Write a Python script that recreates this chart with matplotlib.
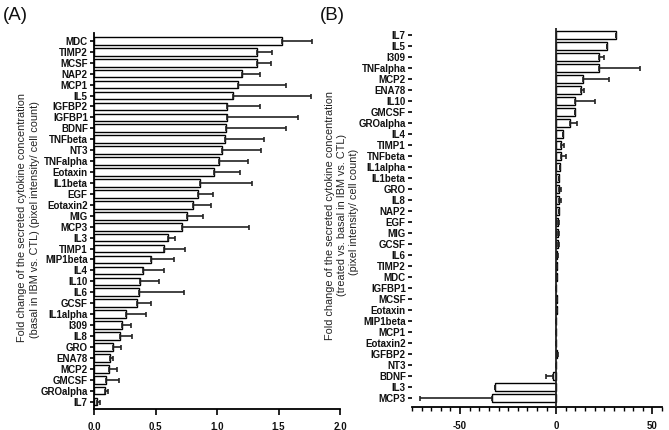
import matplotlib
matplotlib.use("Agg")
import matplotlib.pyplot as plt
import numpy as np
from matplotlib.ticker import MultipleLocator

# ---------------- data ----------------
cats_a = ["MDC", "TIMP2", "MCSF", "NAP2", "MCP1", "IL5", "IGFBP2", "IGFBP1", "BDNF",
          "TNFbeta", "NT3", "TNFalpha", "Eotaxin", "IL1beta", "EGF", "Eotaxin2", "MIG",
          "MCP3", "IL3", "TIMP1", "MIP1beta", "IL4", "IL10", "IL6", "GCSF", "IL1alpha",
          "I309", "IL8", "GRO", "ENA78", "MCP2", "GMCSF", "GROalpha", "IL7"]
vals_a = [1.53, 1.324, 1.324, 1.205, 1.173, 1.132, 1.081, 1.083, 1.076,
          1.068, 1.042, 1.019, 0.977, 0.863, 0.849, 0.807, 0.757,
          0.718, 0.605, 0.573, 0.46, 0.395, 0.371, 0.363, 0.347, 0.258,
          0.228, 0.212, 0.156, 0.129, 0.124, 0.097, 0.091, 0.027]
errs_a = [0.243, 0.121, 0.111, 0.142, 0.384, 0.634, 0.265, 0.574, 0.481,
          0.318, 0.315, 0.231, 0.213, 0.422, 0.119, 0.143, 0.129,
          0.542, 0.056, 0.166, 0.193, 0.178, 0.161, 0.371, 0.113, 0.161,
          0.073, 0.094, 0.062, 0.024, 0.059, 0.103, 0.019, 0.023]

cats_b = ["IL7", "IL5", "I309", "TNFalpha", "MCP2", "ENA78", "IL10", "GMCSF", "GROalpha",
          "IL4", "TIMP1", "TNFbeta", "IL1alpha", "IL1beta", "GRO", "IL8", "NAP2", "EGF",
          "MIG", "GCSF", "IL6", "TIMP2", "MDC", "IGFBP1", "MCSF", "Eotaxin", "MIP1beta",
          "MCP1", "Eotaxin2", "IGFBP2", "NT3", "BDNF", "IL3", "MCP3"]
vals_b = [30.9, 26.3, 22.0, 22.0, 13.9, 13.0, 10.0, 10.0, 7.2,
          3.3, 2.5, 2.3, 2.2, 1.7, 1.5, 1.4, 1.2, 0.9,
          0.9, 0.8, 0.5, 0.4, 0.4, 0.1, 0.3, 0.3, 0.1,
          0.1, 0.1, 0.4, 0.0, -1.9, -31.7, -33.6]
errs_b = [0.0, 0.0, 2.6, 21.5, 13.3, 1.7, 10.0, 0.0, 3.4,
          0.0, 1.8, 2.7, 0.0, 0.0, 0.9, 1.0, 0.4, 0.5,
          0.5, 0.5, 0.3, 0.2, 0.2, 0.0, 0.2, 0.2, 0.0,
          0.0, 0.0, 0.3, 0.0, 3.3, 0.0, 37.4]

xticks_a = [0.0, 0.5, 1.0, 1.5, 2.0]
xticks_b = [-50, 0, 50]

# ---------------- style ----------------
tick_font = ["Liberation Sans Narrow", "Liberation Sans", "DejaVu Sans"]
label_font = ["Liberation Sans", "DejaVu Sans"]
plt.rcParams["font.family"] = label_font

W, H = 669, 430
fig = plt.figure(figsize=(W / 100, H / 100), dpi=100)

def frac(x0, y0, x1, y1):
    return [x0 / W, 1 - y1 / H, (x1 - x0) / W, (y1 - y0) / H]

ax_a = fig.add_axes(frac(94, 33, 340, 409))
ax_b = fig.add_axes(frac(412, 28, 662, 406.7))

bar_kw = dict(height=0.7, color="white", edgecolor="black", linewidth=1.0, zorder=2)
err_kw = dict(fmt="none", ecolor="#222222", elinewidth=1.2, capsize=1.8, capthick=1.2, zorder=3)

# ---- panel A ----
ya = np.arange(len(cats_a))
ax_a.barh(ya, vals_a, **bar_kw)
ax_a.errorbar(vals_a, ya, xerr=[np.zeros(len(errs_a)), errs_a], **err_kw)
ax_a.set_ylim(len(cats_a) - 1 + 0.68, -0.72)
ax_a.set_xlim(0, 2.0)
ax_a.set_yticks(ya)
ax_a.set_yticklabels(cats_a)
ax_a.set_xticks(xticks_a)
ax_a.set_xticklabels([f"{t:.1f}" for t in xticks_a])
for s in ["top", "right"]:
    ax_a.spines[s].set_visible(False)
for s in ["left", "bottom"]:
    ax_a.spines[s].set_linewidth(1.3)
ax_a.tick_params(axis="y", length=3, width=1.2, pad=1.5)
ax_a.tick_params(axis="x", length=4, width=1.2, pad=5)

# ---- panel B ----
yb = np.arange(len(cats_b))
ax_b.barh(yb, vals_b, **bar_kw)
lo_b = [e if v < 0 else 0 for v, e in zip(vals_b, errs_b)]
hi_b = [e if v >= 0 else 0 for v, e in zip(vals_b, errs_b)]
ax_b.errorbar(vals_b, yb, xerr=[lo_b, hi_b], **err_kw)
ax_b.set_ylim(len(cats_b) - 1 + 0.8, -0.64)
ax_b.set_xlim(-75, 55)
ax_b.set_yticks(yb)
ax_b.set_yticklabels(cats_b)
ax_b.set_xticks(xticks_b)
ax_b.set_xticklabels([str(t) for t in xticks_b])
ax_b.xaxis.set_minor_locator(MultipleLocator(5))
ax_b.axvline(0, color="#222222", linewidth=1.3, zorder=4)
for s in ["top", "right", "left"]:
    ax_b.spines[s].set_visible(False)
ax_b.spines["bottom"].set_linewidth(1.3)
ax_b.tick_params(axis="y", length=3, width=1.2, pad=1.5)
ax_b.tick_params(axis="x", which="major", length=5, width=1.2, pad=5)
ax_b.tick_params(axis="x", which="minor", length=3, width=1.0)

for ax in (ax_a, ax_b):
    for lab in ax.get_yticklabels() + ax.get_xticklabels():
        lab.set_family(tick_font)
        lab.set_fontweight("bold")
        lab.set_fontstretch("condensed")
        lab.set_fontsize(7.0)
        lab.set_color("#111111")

# ---- axis titles ----
lab_kw = dict(rotation=90, ha="center", va="center", fontsize=7.8, color="#222222")
fig.text(22 / W, 1 - 217 / H, "Fold change of the secreted cytokine concentration", **lab_kw)
fig.text(35 / W, 1 - 220 / H, "(basal in IBM vs. CTL) (pixel intensity/ cell count)", **lab_kw)
fig.text(330 / W, 1 - 215 / H, "Fold change of the secreted cytokine concentration", **lab_kw)
fig.text(342 / W, 1 - 215 / H, "(treated vs. basal in IBM vs. CTL)", **lab_kw)
fig.text(354 / W, 1 - 212 / H, "(pixel intensity/ cell count)", **lab_kw)

fig.text(3 / W, 1 - 16 / H, "(A)", fontsize=13.5, ha="left", va="center", color="#111111")
fig.text(320 / W, 1 - 16 / H, "(B)", fontsize=13.5, ha="left", va="center", color="#111111")

fig.savefig("out.png", dpi=100)
